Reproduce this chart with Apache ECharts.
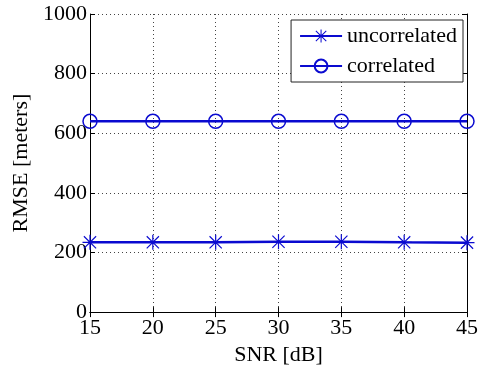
<!DOCTYPE html>
<html><head><meta charset="utf-8">
<script src="https://cdn.jsdelivr.net/npm/echarts@6/dist/echarts.min.js"></script>
<style>html,body{margin:0;padding:0;background:#fff}#c{width:481px;height:371px}</style>
</head><body><div id="c"></div>
<script>
const snr = [15, 20, 25, 30, 35, 40, 45];
const uncorrelated = [234, 234, 234, 236, 236, 234, 233];
const correlated = [640, 640, 640, 640, 640, 640, 640];
const yTicks = [0, 200, 400, 600, 800, 1000];
const seriesNames = ['uncorrelated', 'correlated'];

const FONT = '"Liberation Serif", "Times New Roman", serif';
const FS = 22;
const BLUE = '#0a0ad0';
const STAR = 'path://M0 9.2L20 9.2L20 10.8L0 10.8Z M9.2 0L10.8 0L10.8 20L9.2 20Z M2.4 1.3L18.7 17.6L17.6 18.7L1.3 2.4Z M17.6 1.3L18.7 2.4L2.4 18.7L1.3 17.6Z';

const chart = echarts.init(document.getElementById('c'), null, {renderer: 'canvas'});
const axisLbl = {fontFamily: FONT, fontSize: FS, color: '#000'};
chart.setOption({
  animation: false,
  backgroundColor: '#fff',
  grid: {left: 90, right: 13, top: 14, bottom: 58},
  legend: {
    orient: 'vertical', top: 20, right: 18,
    data: seriesNames,
    backgroundColor: '#fff', borderColor: '#222', borderWidth: 1,
    padding: [5, 6, 5, 8], itemGap: 8, itemWidth: 42, itemHeight: 16,
    textStyle: {fontFamily: FONT, fontSize: FS, color: '#000'}
  },
  xAxis: [{
    type: 'value', min: snr[0], max: snr[snr.length - 1], interval: 5,
    name: 'SNR [dB]', nameLocation: 'middle', nameGap: 30,
    nameTextStyle: {fontFamily: FONT, fontSize: FS, color: '#000'},
    axisLine: {lineStyle: {color: '#000', width: 1}},
    axisTick: {inside: true, length: 5, lineStyle: {color: '#000'}},
    axisLabel: Object.assign({margin: 5}, axisLbl),
    splitLine: {show: true, lineStyle: {type: [1, 3], color: '#444', width: 1}}
  }, {
    type: 'value', position: 'top', min: snr[0], max: snr[snr.length - 1], interval: 5,
    axisLine: {show: true, lineStyle: {color: '#000', width: 1}},
    axisTick: {show: true, inside: true, length: 5, lineStyle: {color: '#000'}},
    axisLabel: {show: false}, splitLine: {show: false}
  }],
  yAxis: [{
    type: 'value', min: yTicks[0], max: yTicks[yTicks.length - 1], interval: 200,
    name: 'RMSE [meters]', nameLocation: 'middle', nameGap: 58,
    nameTextStyle: {fontFamily: FONT, fontSize: FS, color: '#000'},
    axisLine: {show: true, lineStyle: {color: '#000', width: 1}},
    axisTick: {show: true, inside: true, length: 5, lineStyle: {color: '#000'}},
    axisLabel: Object.assign({margin: 3, formatter: v => String(v)}, axisLbl),
    splitLine: {show: true, lineStyle: {type: [1, 3], color: '#444', width: 1}}
  }, {
    type: 'value', position: 'right', min: yTicks[0], max: yTicks[yTicks.length - 1], interval: 200,
    axisLine: {show: true, lineStyle: {color: '#000', width: 1}},
    axisTick: {show: true, inside: true, length: 5, lineStyle: {color: '#000'}},
    axisLabel: {show: false}, splitLine: {show: false}
  }],
  series: [{
    name: seriesNames[0], type: 'line',
    data: snr.map((x, i) => [x, uncorrelated[i]]),
    symbol: STAR, symbolSize: 15, showAllSymbol: true,
    lineStyle: {color: BLUE, width: 2.5},
    itemStyle: {color: BLUE}
  }, {
    name: seriesNames[1], type: 'line',
    data: snr.map((x, i) => [x, correlated[i]]),
    symbol: 'circle', symbolSize: 14, showAllSymbol: true,
    lineStyle: {color: BLUE, width: 2.5},
    itemStyle: {color: 'rgba(0,0,0,0)', borderColor: BLUE, borderWidth: 1.5}
  }]
});
</script></body></html>
